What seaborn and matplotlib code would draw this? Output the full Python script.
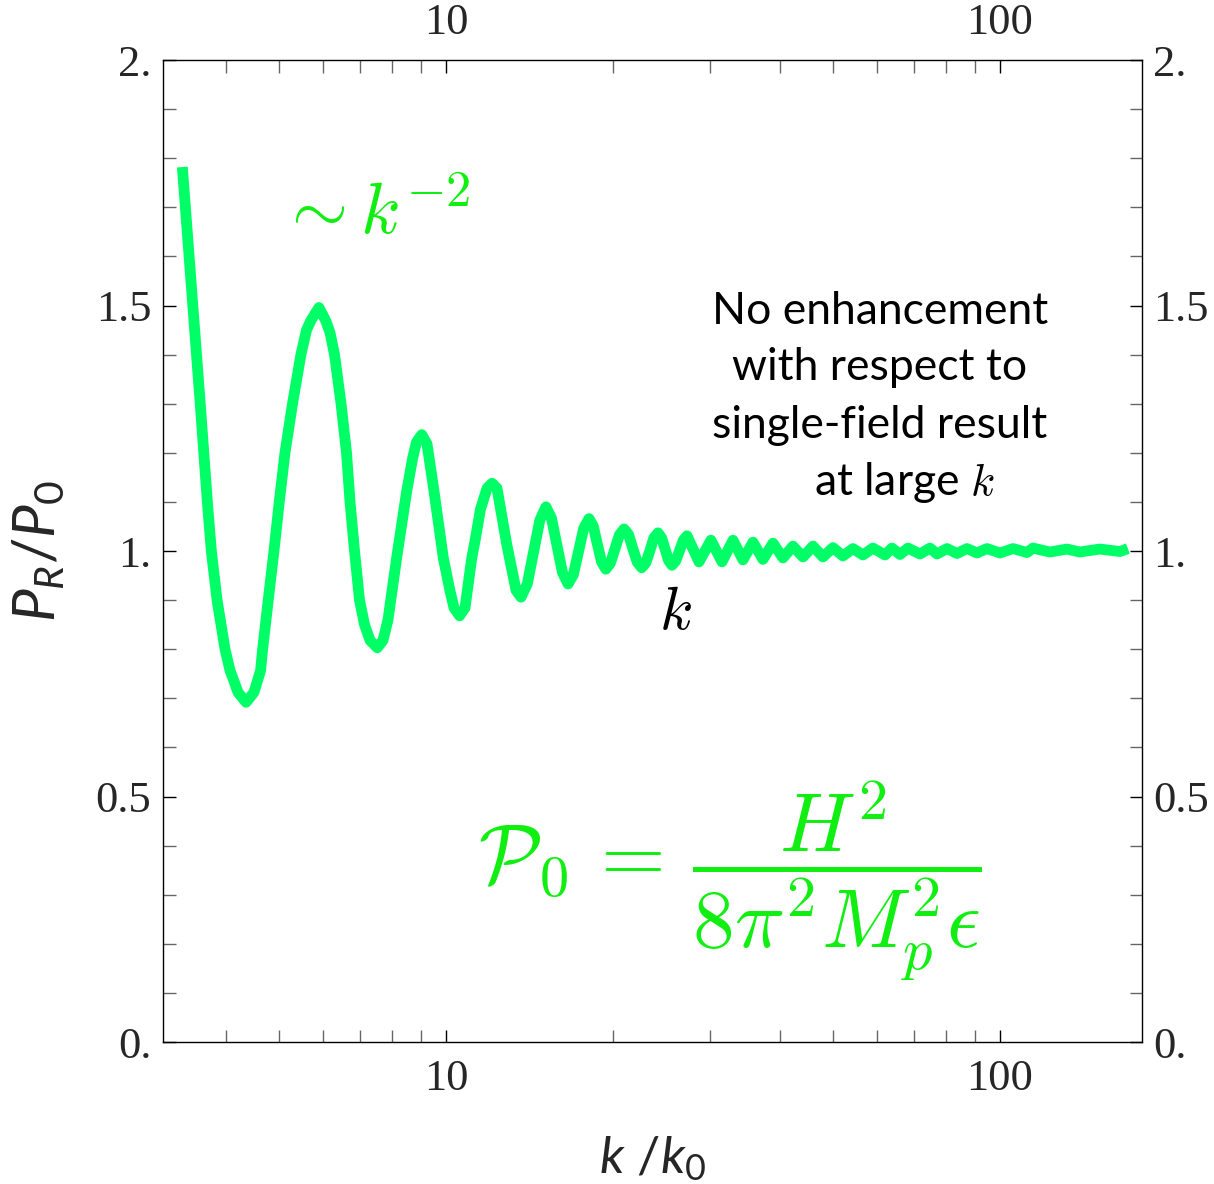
import numpy as np
import pandas as pd
import matplotlib
matplotlib.use("Agg")
from matplotlib import pyplot as plt
from matplotlib import ticker
import seaborn as sns

# curve: k/k0 and P_R/P_0
k_vals = [3.342, 3.491, 3.600, 3.708, 3.770, 3.861, 3.991, 4.074, 4.213, 4.355,
          4.500, 4.627, 4.666, 4.776, 4.891, 5.000, 5.120, 5.283, 5.471, 5.599,
          5.705, 5.897, 6.071, 6.174, 6.291, 6.464, 6.613, 6.710, 6.837, 6.980,
          7.127, 7.292, 7.516, 7.695, 7.857, 8.145, 8.493, 8.708, 8.845, 9.041,
          9.241, 9.513, 9.888, 10.17, 10.34, 10.58, 10.82, 11.13, 11.28, 11.54,
          11.86, 12.11, 12.36, 12.87, 13.38, 13.66, 14.02, 14.39, 14.77, 15.15,
          15.50, 15.86, 16.23, 16.61, 16.98, 17.35, 17.73, 18.12, 18.44, 18.76,
          19.09, 19.43, 19.80, 20.18, 20.56, 20.96, 21.35, 21.74, 22.15, 22.56,
          22.95, 23.34, 23.73, 24.14, 24.50, 24.86, 25.22, 25.58, 25.99, 26.40,
          26.82, 27.23, 28.62, 30.08, 31.49, 32.97, 34.36, 35.82, 37.34, 38.93,
          40.58, 42.30, 44.10, 45.97, 47.92, 49.95, 52.07, 54.28, 56.59, 58.99,
          62.01, 63.84, 66.00, 68.23, 71.72, 74.77, 76.98, 80.24, 83.65, 87.20,
          90.90, 94.76, 100.0, 105.6, 111.9, 114.7, 123.1, 132.1, 139.4, 151.5,
          164.7, 170.2]
p_ratio = [1.782, 1.500, 1.300, 1.100, 1.000, 0.900, 0.800, 0.757, 0.712, 0.692,
           0.712, 0.757, 0.800, 0.900, 1.000, 1.100, 1.200, 1.300, 1.400, 1.450,
           1.470, 1.496, 1.468, 1.445, 1.400, 1.300, 1.200, 1.100, 1.000, 0.900,
           0.850, 0.818, 0.803, 0.818, 0.860, 0.986, 1.122, 1.190, 1.222, 1.237,
           1.218, 1.122, 0.986, 0.918, 0.884, 0.868, 0.884, 0.986, 1.020, 1.085,
           1.128, 1.138, 1.128, 1.014, 0.920, 0.906, 0.933, 0.998, 1.063, 1.090,
           1.067, 1.012, 0.956, 0.933, 0.952, 0.999, 1.047, 1.066, 1.051, 1.014,
           0.978, 0.963, 0.975, 1.004, 1.033, 1.045, 1.034, 1.005, 0.977, 0.966,
           0.976, 1.001, 1.027, 1.037, 1.027, 1.004, 0.981, 0.971, 0.980, 1.001,
           1.022, 1.031, 0.978, 1.022, 0.978, 1.022, 0.982, 1.018, 0.983, 1.016,
           0.986, 1.010, 0.988, 1.010, 0.988, 1.007, 0.990, 1.005, 0.992, 1.006,
           0.992, 1.006, 0.993, 1.006, 0.994, 1.006, 0.994, 1.005, 0.995, 1.005,
           0.996, 1.005, 0.996, 1.005, 0.997, 1.006, 0.998, 1.004, 0.998, 1.004,
           0.999, 1.005]

x_major = [10, 100]
x_major_labels = ["10", "100"]
y_major = [0, 0.5, 1, 1.5, 2]
y_major_labels = ["0.", "0.5", "1.", "1.5", "2."]

note_lines = ["No enhancement", "with respect to", "single-field result", r"at large $k$"]

curve_color = "#00ff66"
text_green = "#11ee11"

sns.set_theme(style="ticks")
plt.rcParams["font.family"] = ["Liberation Serif", "DejaVu Serif"]
plt.rcParams["mathtext.fontset"] = "custom"
plt.rcParams["mathtext.it"] = "Lato:italic"
plt.rcParams["mathtext.rm"] = "Lato"
plt.rcParams["mathtext.default"] = "it"

df = pd.DataFrame({"k": k_vals, "ratio": p_ratio})

fig = plt.figure(figsize=(12.14, 11.84), dpi=100)
ax = fig.add_axes([0.1339, 0.1199, 0.8068, 0.8294])
sns.lineplot(data=df, x="k", y="ratio", ax=ax, color=curve_color, linewidth=7.8,
             estimator=None, sort=False, solid_capstyle="butt", solid_joinstyle="round")

ax.set_xscale("log")
ax.set_xlim(3.078, 180.5)
ax.set_ylim(0, 2)

ax.xaxis.set_major_locator(ticker.FixedLocator(x_major))
ax.xaxis.set_major_formatter(ticker.FixedFormatter(x_major_labels))
ax.xaxis.set_minor_locator(ticker.LogLocator(base=10, subs=np.arange(2, 10)))
ax.xaxis.set_minor_formatter(ticker.NullFormatter())
ax.yaxis.set_major_locator(ticker.FixedLocator(y_major))
ax.yaxis.set_major_formatter(ticker.FixedFormatter(y_major_labels))
ax.yaxis.set_minor_locator(ticker.MultipleLocator(0.1))

ax.tick_params(axis="both", which="both", direction="in", top=True, right=True,
               length=9, width=1.0)
ax.tick_params(axis="both", which="minor", color="#666666")
ax.tick_params(axis="both", which="major", color="black", labelsize=32)
ax.tick_params(axis="x", which="major", labeltop=True, labelbottom=True, pad=12)
ax.tick_params(axis="y", which="major", labelleft=True, labelright=True, pad=8)
for s in ax.spines.values():
    s.set_color("black")
    s.set_linewidth(1.0)

ax.set_xlabel(r"$k\ /k_{\mathrm{0}}$", fontsize=37)
ax.set_ylabel(r"$P_R/P_{\mathrm{0}}$", fontsize=42, va="center")
ax.xaxis.set_label_coords(0.5, -0.095)
ax.yaxis.set_label_coords(-0.126, 0.5)

ax.text(7.44, 1.684, r"$\sim k^{-2}$", color=text_green, fontsize=52,
        ha="center", va="center", math_fontfamily="cm")
ax.text(25.9, 0.871, r"$k$", color="black", fontsize=44,
        ha="center", va="center", math_fontfamily="cm")
ax.text(32.6, 0.327, r"$\mathcal{P}_0 \,=\, \dfrac{H^2}{8\pi^2 M_p^2\epsilon}$",
        color=text_green, fontsize=60, ha="center", va="center", math_fontfamily="cm")

note_x = [60.7, 60.7, 60.7, 67.1]
note_y = [1.463, 1.349, 1.231, 1.114]
for txt, nx, ny in zip(note_lines, note_x, note_y):
    ax.text(nx, ny, txt, color="black", fontsize=32, family=["Lato", "DejaVu Sans"],
            ha="center", va="baseline", math_fontfamily="cm")

fig.savefig("out.png", dpi=100)
